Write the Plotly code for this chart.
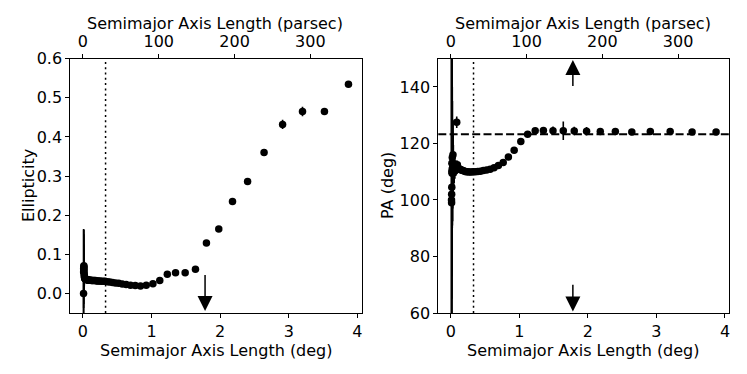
import plotly.graph_objects as go

# ---------------- data ----------------
sma_deg = [0.009, 0.010, 0.011, 0.013, 0.014, 0.015, 0.017, 0.019, 0.020, 0.022,
           0.025, 0.027, 0.030, 0.033, 0.036, 0.040, 0.044, 0.048, 0.053, 0.058,
           0.064, 0.070, 0.078, 0.085, 0.094, 0.103, 0.113, 0.125, 0.137, 0.151,
           0.166, 0.183, 0.201, 0.221, 0.243, 0.267, 0.294, 0.323, 0.356, 0.391,
           0.431, 0.474, 0.521, 0.573, 0.630, 0.693, 0.763, 0.839, 0.923, 1.02,
           1.12, 1.23, 1.35, 1.49, 1.64, 1.80, 1.98, 2.18, 2.40, 2.64,
           2.91, 3.20, 3.52, 3.87]

ellipticity = [0.000, 0.055, 0.063, 0.068, 0.071, 0.065, 0.058, 0.050, 0.045, 0.042,
               0.040, 0.039, 0.038, 0.038, 0.037, 0.037, 0.036, 0.036, 0.036, 0.035,
               0.035, 0.035, 0.034, 0.034, 0.034, 0.034, 0.034, 0.033, 0.033, 0.033,
               0.033, 0.033, 0.032, 0.032, 0.032, 0.031, 0.031, 0.031, 0.030, 0.029,
               0.028, 0.027, 0.026, 0.024, 0.023, 0.021, 0.020, 0.019, 0.021, 0.025,
               0.033, 0.049, 0.053, 0.053, 0.062, 0.129, 0.165, 0.235, 0.286, 0.360,
               0.432, 0.465, 0.465, 0.535]

ellipticity_err = [0.055, 0.110, 0.100, 0.095, 0.080, 0.060, 0.045, 0.035, 0.025, 0.018,
                   0.013, 0.010, 0.008, 0.006, 0.005, 0.004, 0.004, 0.003, 0.003, 0.003,
                   0.002, 0.002, 0.002, 0.002, 0.002, 0.002, 0.002, 0.002, 0.002, 0.002,
                   0.002, 0.002, 0.002, 0.002, 0.002, 0.002, 0.002, 0.002, 0.002, 0.002,
                   0.002, 0.002, 0.002, 0.002, 0.002, 0.002, 0.002, 0.002, 0.002, 0.002,
                   0.003, 0.003, 0.003, 0.003, 0.003, 0.005, 0.006, 0.007, 0.008, 0.009,
                   0.012, 0.012, 0.008, 0.006]

pa_deg = [100.0, 99.0, 102.0, 104.5, 110.0, 113.0, 109.5, 111.0, 115.0, 113.0,
          110.5, 112.0, 116.0, 113.0, 111.5, 110.5, 111.0, 110.0, 112.0, 110.5,
          111.0, 110.5, 112.0, 127.5, 112.5, 111.5, 111.0, 111.0, 110.8, 110.6,
          110.5, 110.3, 110.2, 110.0, 110.0, 109.9, 109.9, 110.0, 110.0, 110.1,
          110.2, 110.4, 110.6, 110.9, 111.4, 112.2, 113.3, 115.2, 117.6, 120.7,
          123.3, 124.5, 124.6, 124.5, 124.5, 124.4, 124.3, 124.2, 124.2, 124.1,
          124.2, 124.2, 124.1, 124.1]

pa_err = [90.0, 70.0, 60.0, 50.0, 45.0, 40.0, 35.0, 30.0, 25.0, 22.0,
          18.0, 15.0, 12.0, 10.0, 8.0, 6.0, 5.0, 4.0, 3.5, 3.0,
          2.5, 2.0, 2.0, 2.0, 1.5, 1.2, 1.0, 1.0, 0.8, 0.6,
          0.5, 0.5, 0.5, 0.5, 0.5, 0.5, 0.5, 0.5, 0.5, 0.5,
          0.5, 0.5, 0.5, 0.5, 0.5, 0.5, 0.5, 0.5, 0.5, 0.6,
          0.8, 1.0, 1.2, 1.5, 3.3, 1.5, 1.5, 1.2, 1.0, 1.0,
          0.8, 0.8, 0.8, 0.8]

pc_per_deg = 90.5          # conversion for the top axis
inner_limit_deg = 0.33     # dotted vertical line
mean_pa = 123.3            # dashed horizontal line
arrow_deg = 1.78           # arrow position
ell_arrow = (0.051, -0.045)
pa_arrow_up = (139.8, 149.5)
pa_arrow_down = (70.5, 60.5)

x_range = [-0.184, 4.063]
ell_range = [-0.05, 0.6]
pa_range = [60, 150]
x_ticks = [0, 1, 2, 3, 4]
pc_ticks = [0, 100, 200, 300]
ell_ticks = [0.0, 0.1, 0.2, 0.3, 0.4, 0.5, 0.6]
pa_ticks = [60, 80, 100, 120, 140]

x_title_deg = "Semimajor Axis Length (deg)"
x_title_pc = "Semimajor Axis Length (parsec)"
y_title_ell = "Ellipticity"
y_title_pa = "PA (deg)"

# ---------------- figure ----------------
FONT = "DejaVu Sans"
FS = 16
W, H = 747, 374
OFF = 8  # page body margin


def fx(px):
    return (px - OFF) / W


def fy(py):
    return 1 - (py - OFF) / H


fig = go.Figure()

marker = dict(color="black", size=7.5)
fig.add_trace(go.Scatter(
    x=sma_deg, y=ellipticity, mode="markers", marker=marker,
    error_y=dict(type="data", array=ellipticity_err, color="black", thickness=1.6, width=0),
    xaxis="x", yaxis="y"))
fig.add_trace(go.Scatter(
    x=sma_deg, y=pa_deg, mode="markers", marker=marker,
    error_y=dict(type="data", array=pa_err, color="black", thickness=1.6, width=0),
    xaxis="x2", yaxis="y2"))
# empty traces to activate the top axes
fig.add_trace(go.Scatter(x=[], y=[], xaxis="x3", yaxis="y", showlegend=False))
fig.add_trace(go.Scatter(x=[], y=[], xaxis="x4", yaxis="y2", showlegend=False))

ax_common = dict(showgrid=False, zeroline=False, ticks="outside", ticklen=4, tickwidth=1,
                 tickcolor="black", linecolor="black", linewidth=1,
                 tickfont=dict(family=FONT, size=FS, color="black"), automargin=False)
ydom = [fy(313), fy(58.7)]
left_dom = [fx(70.3), fx(361.7)]
right_dom = [fx(438.3), fx(729.3)]

fig.update_layout(
    width=W, height=H, margin=dict(l=0, r=0, t=0, b=0),
    paper_bgcolor="white", plot_bgcolor="white", showlegend=False,
    font=dict(family=FONT, size=FS, color="black"),
    xaxis=dict(domain=left_dom, anchor="y", range=x_range, tickvals=x_ticks,
               showline=True, mirror=True, **ax_common),
    yaxis=dict(domain=ydom, anchor="x", range=ell_range, tickvals=ell_ticks,
               tickformat=".1f", showline=True, mirror=True, **ax_common),
    xaxis3=dict(overlaying="x", anchor="y", side="top",
                range=[x_range[0] * pc_per_deg, x_range[1] * pc_per_deg],
                tickvals=pc_ticks, showline=False, **ax_common),
    xaxis2=dict(domain=right_dom, anchor="y2", range=x_range, tickvals=x_ticks,
                showline=True, mirror=True, **ax_common),
    yaxis2=dict(domain=ydom, anchor="x2", range=pa_range, tickvals=pa_ticks,
                showline=True, mirror=True, **ax_common),
    xaxis4=dict(overlaying="x2", anchor="y2", side="top",
                range=[x_range[0] * pc_per_deg, x_range[1] * pc_per_deg],
                tickvals=pc_ticks, showline=False, **ax_common),
)

# axis titles
def add_title(text, px, py, angle=0):
    fig.add_annotation(text=text, x=fx(px), y=fy(py), xref="paper", yref="paper",
                       xanchor="center", yanchor="middle", showarrow=False, textangle=angle,
                       borderpad=0, font=dict(family=FONT, size=FS, color="black"))


add_title(x_title_deg, 216, 350.5)
add_title(x_title_pc, 215, 23.5)
add_title(y_title_ell, 28, 186, -90)
add_title(x_title_deg, 583, 350.5)
add_title(x_title_pc, 583, 23.5)
add_title(y_title_pa, 387, 186, -90)

# reference lines
fig.add_shape(type="line", xref="x", yref="y domain", x0=inner_limit_deg, x1=inner_limit_deg,
              y0=0, y1=1, line=dict(color="black", width=1.5, dash="2px,3.3px"))
fig.add_shape(type="line", xref="x2", yref="y2 domain", x0=inner_limit_deg, x1=inner_limit_deg,
              y0=0, y1=1, line=dict(color="black", width=1.5, dash="2px,3.3px"))
fig.add_shape(type="line", xref="x2 domain", yref="y2", x0=0, x1=1, y0=mean_pa, y1=mean_pa,
              line=dict(color="black", width=2, dash="8px,3.3px"))

# arrows
arrow_style = dict(showarrow=True, text="", arrowhead=2, arrowsize=2, arrowwidth=1.5,
                   arrowcolor="black", standoff=0, startstandoff=0)
fig.add_annotation(x=arrow_deg, y=ell_arrow[1], ax=arrow_deg, ay=ell_arrow[0],
                   xref="x", yref="y", axref="x", ayref="y", **arrow_style)
fig.add_annotation(x=arrow_deg, y=pa_arrow_up[1], ax=arrow_deg, ay=pa_arrow_up[0],
                   xref="x2", yref="y2", axref="x2", ayref="y2", **arrow_style)
fig.add_annotation(x=arrow_deg, y=pa_arrow_down[1], ax=arrow_deg, ay=pa_arrow_down[0],
                   xref="x2", yref="y2", axref="x2", ayref="y2", **arrow_style)

fig.write_html("out.html")
